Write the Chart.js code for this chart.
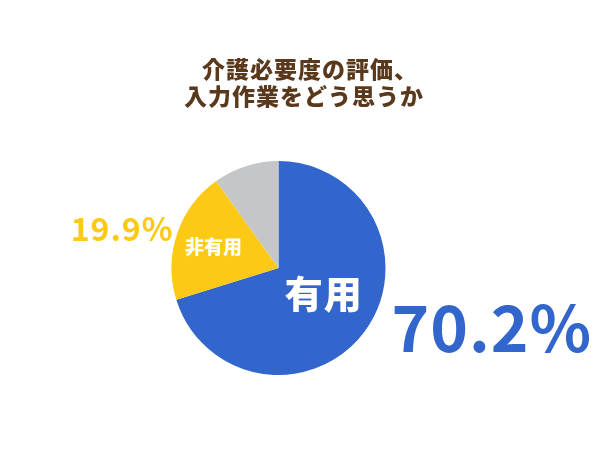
<!DOCTYPE html>
<html><head><meta charset="utf-8">
<script src="https://cdn.jsdelivr.net/npm/chart.js@4"></script>
<style>html,body{margin:0;padding:0;background:#fff;}#wrap{width:600px;height:450px;position:relative;}</style>
</head><body><div id="wrap"><canvas id="c" width="600" height="450"></canvas></div>
<script>
const titleLines = ['介護必要度の評価、', '入力作業をどう思うか'];
const categories = ['有用', '非有用', 'その他'];
const values = [70.2, 19.9, 9.9];
const percentLabels = ['70.2%', '19.9%', ''];
const innerLabels = ['有用', '非有用', ''];
const colors = ['#3366CC', '#FCC917', '#C5C6C8'];
const FONT = '"Noto Sans CJK JP", "Noto Sans", sans-serif';

function spacedText(ctx, text, x, y, spacing, align) {
  ctx.letterSpacing = spacing + 'px';
  const w = ctx.measureText(text).width - spacing;
  let left = x;
  if (align === 'center') left = x - w / 2;
  else if (align === 'right') left = x - w;
  ctx.textAlign = 'left';
  ctx.fillText(text, left, y);
  ctx.letterSpacing = '0px';
}

const labelPlugin = {
  id: 'labels',
  afterDraw(chart) {
    const ctx = chart.ctx;
    ctx.save();
    ctx.textBaseline = 'middle';
    // title
    ctx.fillStyle = '#5A381C';
    ctx.font = '900 23px ' + FONT;
    spacedText(ctx, titleLines[0], 202, 69, 1, 'left');
    spacedText(ctx, titleLines[1], 184, 96, 1, 'left');
    const meta = chart.getDatasetMeta(0);
    const arcs = meta.data;
    const cx = arcs[0].x, cy = arcs[0].y, r = arcs[0].outerRadius;
    // inner labels
    const innerCfg = [{f: 0.52, size: 38, sp: 1, dy: -7}, {f: 0.64, size: 19, sp: 0, dy: 1}];
    innerCfg.forEach((c, i) => {
      const a = arcs[i];
      const mid = (a.startAngle + a.endAngle) / 2;
      ctx.fillStyle = '#FFFFFF';
      ctx.font = '900 ' + c.size + 'px ' + FONT;
      spacedText(ctx, innerLabels[i], cx + Math.cos(mid) * r * c.f, cy + Math.sin(mid) * r * c.f + c.dy, c.sp, 'center');
    });
    // outer labels
    ctx.fillStyle = colors[0];
    ctx.font = 'bold 64px ' + FONT;
    spacedText(ctx, percentLabels[0], cx + r + 6, cy + r * 0.58 - 2, 1, 'left');
    ctx.fillStyle = colors[1];
    ctx.font = 'bold 32px ' + FONT;
    spacedText(ctx, percentLabels[1], cx - r + 1, cy - r * 0.36 - 1, 1, 'right');
    ctx.restore();
  }
};

new Chart(document.getElementById('c'), {
  type: 'pie',
  data: {
    labels: categories,
    datasets: [{ data: values, backgroundColor: colors, borderWidth: 0 }]
  },
  options: {
    responsive: false,
    animation: false,
    layout: { padding: { top: 161, bottom: 75, left: 171.5, right: 214.5 } },
    plugins: { legend: { display: false }, tooltip: { enabled: false }, title: { display: false } }
  },
  plugins: [labelPlugin]
});
</script></body></html>
